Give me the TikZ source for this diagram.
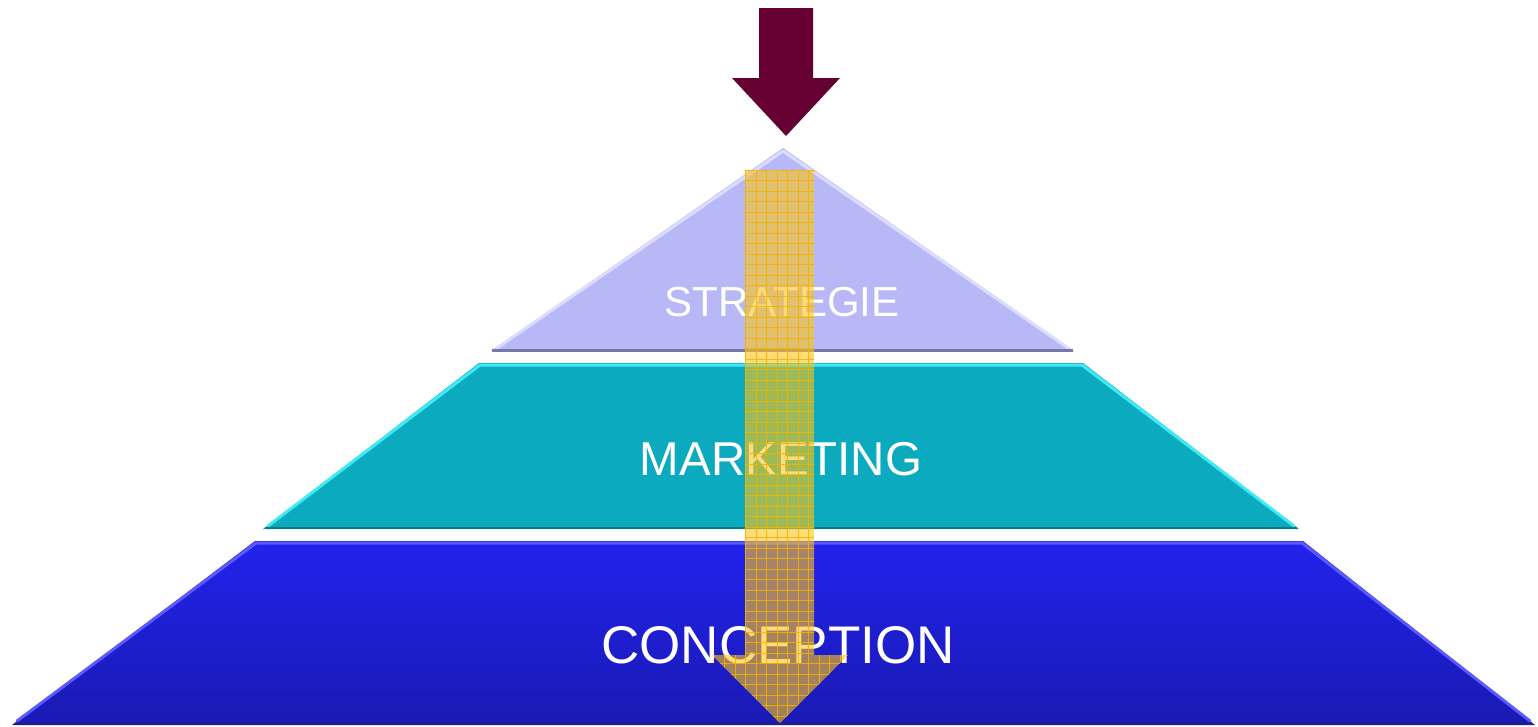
\documentclass[tikz,border=0pt]{standalone}
\usepackage{fontspec}
\setmainfont{Liberation Sans}
\definecolor{maroon}{HTML}{660033}
\definecolor{lav}{HTML}{B8B8F6}
\definecolor{lavHi}{HTML}{DCDCFF}
\definecolor{lavDark}{HTML}{7878A4}
\definecolor{teal}{HTML}{0BAABE}
\definecolor{tealHi}{HTML}{3EEAF6}
\definecolor{tealDark}{HTML}{0B7A84}
\definecolor{blueTop}{HTML}{2222EC}
\definecolor{blueBot}{HTML}{1A1AB4}
\definecolor{blueHi}{HTML}{5A5AFF}
\definecolor{blueDark}{HTML}{202080}
\definecolor{yel}{HTML}{FFC61A}
\definecolor{yelLine}{HTML}{F2B400}
\begin{document}
\begin{tikzpicture}[x=1pt,y=-1pt,
  label/.style={text=white,inner sep=0pt,anchor=center},
  hilite/.style={line width=#1,line join=round,line cap=round}]
\useasboundingbox (0,0) rectangle (1538,726);
% ---------- CONCEPTION (blue) ----------
\shade[top color=blueTop,bottom color=blueBot]
  (12,725) -- (255,541) -- (1303,541) -- (1535,725) -- cycle;
\draw[blueHi,hilite=3] (17,721) -- (256,543) -- (1302,543) -- (1530,721);
\draw[blueDark,line width=2] (14,724) -- (1533,724);
% ---------- MARKETING (teal) ----------
\fill[teal] (263,529) -- (479,363) -- (1083,363) -- (1299,529) -- cycle;
\draw[tealHi,hilite=3] (268,526) -- (480,365) -- (1082,365) -- (1294,526);
\draw[tealDark,line width=2.5] (265,528) -- (1297,528);
% ---------- STRATEGIE (lavender) ----------
\fill[lav] (491,351) -- (783,148) -- (1074,351) -- cycle;
\draw[lavHi,hilite=3] (497,348) -- (783,151) -- (1068,348);
\draw[lavDark,line width=3] (492,350) -- (1073,350);
% ---------- labels ----------
\node[label,font=\fontsize{42}{42}\selectfont] (strat) at (782,302) {STRATEGIE};
\node[label,font=\fontsize{47.5}{47.5}\selectfont] (mark) at (781,459) {MARKETING};
\node[label,font=\fontsize{53}{53}\selectfont] (conc) at (778,645) {CONCEPTION};
% ---------- top maroon arrow ----------
\fill[maroon] (759,8) -- (813,8) -- (813,78) -- (840,78) -- (786,136)
  -- (732,78) -- (759,78) -- cycle;
% ---------- yellow grid arrow ----------
\begin{scope}
  \path[clip] (745,170) -- (814,170) -- (814,655) -- (848,655) -- (780,723)
    -- (712,655) -- (745,655) -- cycle;
  \fill[yel,opacity=0.6] (700,160) rectangle (860,730);
  \begin{scope}[yelLine,line width=0.9,opacity=0.85]
    \foreach \i in {0,...,15} {\draw (703.5+10.5*\i,160) -- (703.5+10.5*\i,730);}
    \foreach \j in {0,...,54} {\draw (700,170+10.5*\j) -- (860,170+10.5*\j);}
  \end{scope}
\end{scope}
\end{tikzpicture}
\end{document}
